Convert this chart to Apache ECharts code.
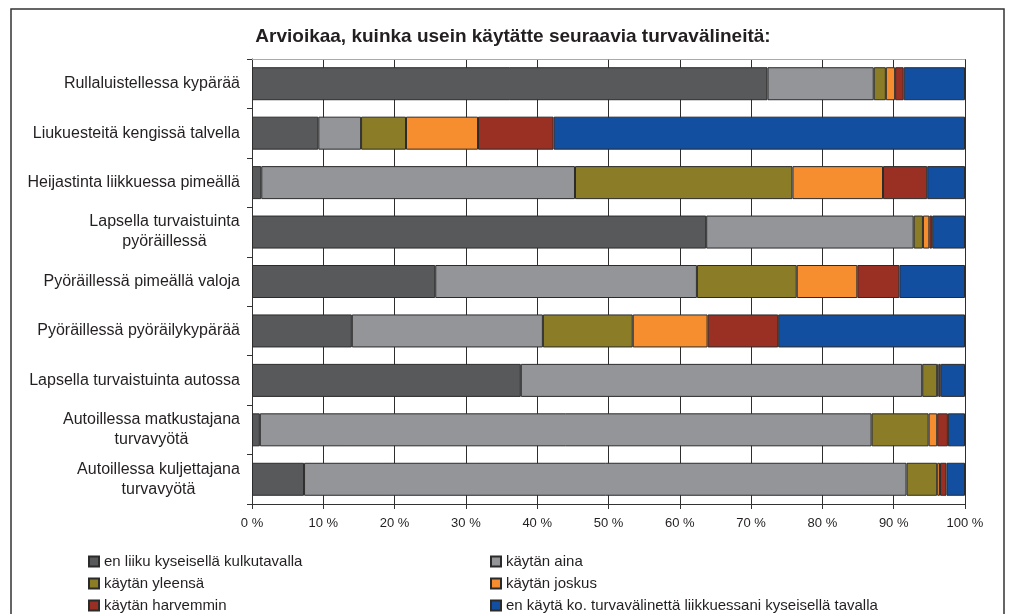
<!DOCTYPE html>
<html>
<head>
<meta charset="utf-8">
<title>Turvavälineet</title>
<script src="https://cdn.jsdelivr.net/npm/echarts@6/dist/echarts.min.js"></script>
<style>
    html, body { margin: 0; padding: 0; background: #fff; }
    #chart { width: 1011px; height: 614px; }
</style>
</head>
<body>
<div id="chart"></div>
<script>
// kategoriat (ylhäältä alas)
const categories = [
    "Rullaluistellessa kypärää",
    "Liukuesteitä kengissä talvella",
    "Heijastinta liikkuessa pimeällä",
    "Lapsella turvaistuinta\npyöräillessä",
    "Pyöräillessä pimeällä valoja",
    "Pyöräillessä pyöräilykypärää",
    "Lapsella turvaistuinta autossa",
    "Autoillessa matkustajana\nturvavyötä",
    "Autoillessa kuljettajana\nturvavyötä",
];

// sarjojen nimet
const seriesNames = [
    "en liiku kyseisellä kulkutavalla",
    "käytän aina",
    "käytän yleensä",
    "käytän joskus",
    "käytän harvemmin",
    "en käytä ko. turvavälinettä liikkuessani kyseisellä tavalla",
];

// arvot prosentteina
const enLiiku = [72.3, 9.3, 1.3, 63.7, 25.7, 14.0, 37.7, 1.1, 7.3];
const kaytanAina = [14.9, 6.0, 44.0, 29.1, 36.7, 26.8, 56.3, 85.8, 84.5];
const kaytanYleensa = [1.7, 6.3, 30.5, 1.3, 14.0, 12.6, 2.1, 8.0, 4.3];
const kaytanJoskus = [1.3, 10.1, 12.7, 0.9, 8.5, 10.5, 0.2, 1.2, 0.4];
const kaytanHarvemmin = [1.2, 10.6, 6.2, 0.4, 5.9, 9.9, 0.3, 1.5, 0.9];
const enKayta = [8.6, 57.7, 5.3, 4.6, 9.2, 26.2, 3.4, 2.4, 2.6];

const xTicks = [0, 10, 20, 30, 40, 50, 60, 70, 80, 90, 100];

const FONT = '"Liberation Sans", Arial, Helvetica, sans-serif';
const colors = ["#58595b", "#939598", "#8b7d27", "#f68d2e", "#9a2f23", "#134fa0"];
const values = [enLiiku, kaytanAina, kaytanYleensa, kaytanJoskus, kaytanHarvemmin, enKayta];

// kaksiriviset otsikot keskitetään: mitataan pisimmän rivin leveys
const ctx = document.createElement("canvas").getContext("2d");
ctx.font = "16px " + FONT;
const rich = {};
categories.forEach((name, i) => {
    const lines = name.split("\n");
    if (lines.length > 1) {
        const w = Math.max(...lines.map(l => ctx.measureText(l).width));
        rich["c" + i] = { width: Math.ceil(w), align: "center", fontSize: 16, lineHeight: 20, color: "#231f20", fontFamily: FONT };
    }
});

const chart = echarts.init(document.getElementById("chart"));

const seriesArr = values.map((data, index) => ({
    name: seriesNames[index],
    type: "bar",
    stack: "total",
    barWidth: 33,
    xAxisIndex: 0,
    data: data,
    itemStyle: {
        color: colors[index],
        borderColor: "#2b2b2b",
        borderWidth: 1,
    },
}));

const legendText = { fontSize: 15, color: "#231f20", fontFamily: FONT, lineHeight: 15 };
const legendBase = {
    orient: "vertical",
    top: 554,
    padding: 0,
    itemWidth: 10,
    itemHeight: 10,
    itemGap: 7,
    icon: "rect",
    textStyle: legendText,
};

const option = {
    animation: false,
    textStyle: { fontFamily: FONT },
    title: {
        text: "Arvioikaa, kuinka usein käytätte seuraavia turvavälineitä:",
        left: 508,
        textAlign: "center",
        top: 22,
        textStyle: { fontSize: 19, fontWeight: "bold", color: "#231f20", fontFamily: FONT },
    },
    graphic: [{
        type: "rect",
        shape: { x: 11, y: 9, width: 993, height: 640 },
        style: { fill: null, stroke: "#333", lineWidth: 1.5 },
        silent: true,
    }],
    grid: {
        left: 252,
        right: 46,
        top: 59,
        bottom: 110,
        containLabel: false,
    },
    legend: [
        Object.assign({}, legendBase, {
            left: 88,
            data: [seriesNames[0], seriesNames[2], seriesNames[4]],
        }),
        Object.assign({}, legendBase, {
            left: 490,
            data: [seriesNames[1], seriesNames[3], seriesNames[5]],
        }),
    ],
    xAxis: [
        {
            type: "value",
            min: xTicks[0],
            max: xTicks[xTicks.length - 1],
            interval: xTicks[1] - xTicks[0],
            axisLine: { show: true, lineStyle: { color: "#333", width: 1 } },
            axisTick: { show: true, length: 5, lineStyle: { color: "#333" } },
            axisLabel: {
                formatter: "{value} %",
                fontSize: 13,
                color: "#231f20",
                margin: 13,
            },
            splitLine: { show: true, lineStyle: { color: "#2e2e2e", width: 1 } },
        },
        {
            // yläreunan harmaa viiva
            type: "value",
            position: "top",
            min: xTicks[0],
            max: xTicks[xTicks.length - 1],
            interval: xTicks[1] - xTicks[0],
            axisLine: { show: true, lineStyle: { color: "#aaa", width: 1 } },
            axisTick: { show: false },
            axisLabel: { show: false },
            splitLine: { show: false },
        },
    ],
    yAxis: {
        type: "category",
        inverse: true,
        data: categories,
        axisLine: { show: true, lineStyle: { color: "#333", width: 1 } },
        axisTick: { show: true, length: 5, lineStyle: { color: "#333" } },
        axisLabel: {
            fontSize: 16,
            color: "#231f20",
            margin: 12,
            lineHeight: 20,
            formatter: (value, index) => {
                if (!rich["c" + index]) return value;
                return value.split("\n").map(l => "{c" + index + "|" + l + "}").join("\n");
            },
            rich: rich,
        },
        splitLine: { show: false },
    },
    series: seriesArr,
};

chart.setOption(option);
</script>
</body>
</html>
